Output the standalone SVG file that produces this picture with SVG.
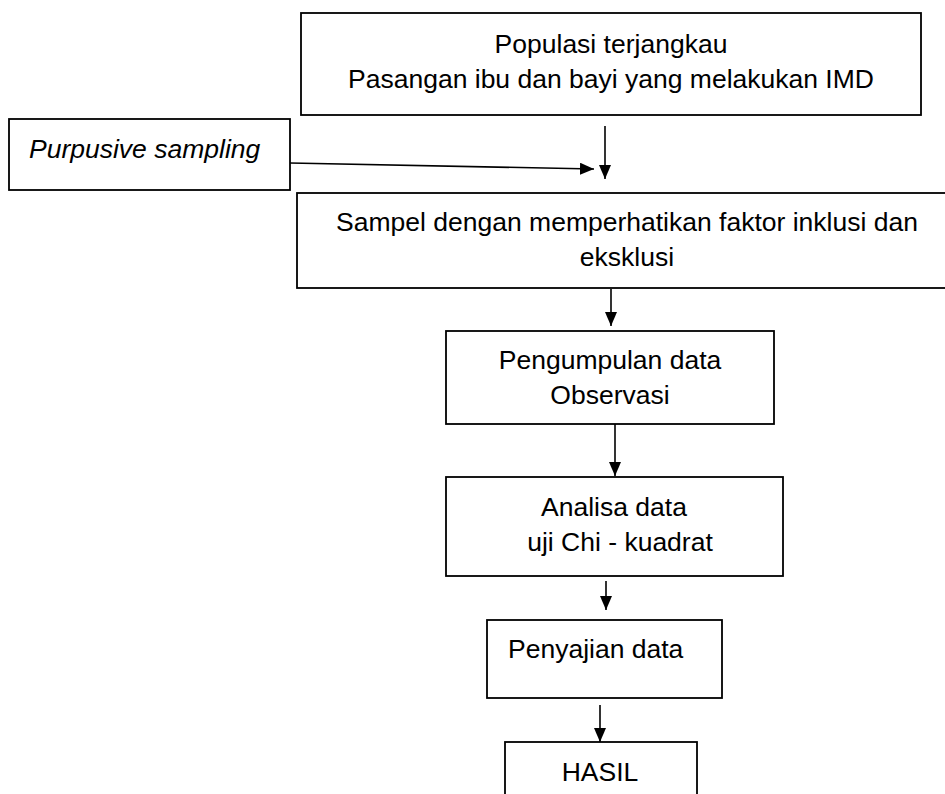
<svg xmlns="http://www.w3.org/2000/svg" width="945" height="794" viewBox="0 0 945 794">
<style>
.box{fill:#fff;stroke:#000;stroke-width:1.8}
text{font-family:"Liberation Sans",Arial,sans-serif;font-size:26.5px;fill:#000}
.c{text-anchor:middle}
.i{font-style:italic}
.conn line{stroke:#000;stroke-width:1.6}
</style>
<defs>
<marker id="ah" markerWidth="14" markerHeight="12" refX="14" refY="6" orient="auto" markerUnits="userSpaceOnUse">
<path d="M0,0 L14,6 L0,12 Z" fill="#000"/>
</marker>
</defs>
<rect width="945" height="794" fill="#fff"/>
<g id="populasi">
<rect class="box" x="301" y="13" width="620" height="102"/>
<text class="c" x="611" y="53">Populasi terjangkau</text>
<text class="c" x="611" y="88">Pasangan ibu dan bayi yang melakukan IMD</text>
</g>
<g id="purposive">
<rect class="box" x="9" y="119" width="281" height="71"/>
<text class="i" x="29" y="158">Purpusive sampling</text>
</g>
<g id="sampel">
<rect class="box" x="297" y="193" width="660" height="95"/>
<text class="c" x="627" y="231">Sampel dengan memperhatikan faktor inklusi dan</text>
<text class="c" x="627" y="266">eksklusi</text>
</g>
<g id="pengumpulan">
<rect class="box" x="446" y="331" width="328" height="93"/>
<text class="c" x="610" y="369">Pengumpulan data</text>
<text class="c" x="610" y="404">Observasi</text>
</g>
<g id="analisa">
<rect class="box" x="446" y="477" width="337" height="99"/>
<text class="c" x="614" y="516">Analisa data</text>
<text class="c" x="620" y="551">uji Chi - kuadrat</text>
</g>
<g id="penyajian">
<rect class="box" x="487" y="620" width="235" height="78"/>
<text x="508" y="658">Penyajian data</text>
</g>
<g id="hasil">
<rect class="box" x="505" y="742" width="192" height="70"/>
<text class="c" x="600" y="781">HASIL</text>
</g>
<g class="conn" id="connectors">
<line x1="290" y1="163" x2="594" y2="169" marker-end="url(#ah)"/>
<line x1="605" y1="126" x2="605" y2="179" marker-end="url(#ah)"/>
<line x1="611" y1="289" x2="611" y2="326" marker-end="url(#ah)"/>
<line x1="615" y1="424" x2="615" y2="476" marker-end="url(#ah)"/>
<line x1="606" y1="581" x2="606" y2="610" marker-end="url(#ah)"/>
<line x1="600" y1="705" x2="600" y2="742" marker-end="url(#ah)"/>
</g>
</svg>
